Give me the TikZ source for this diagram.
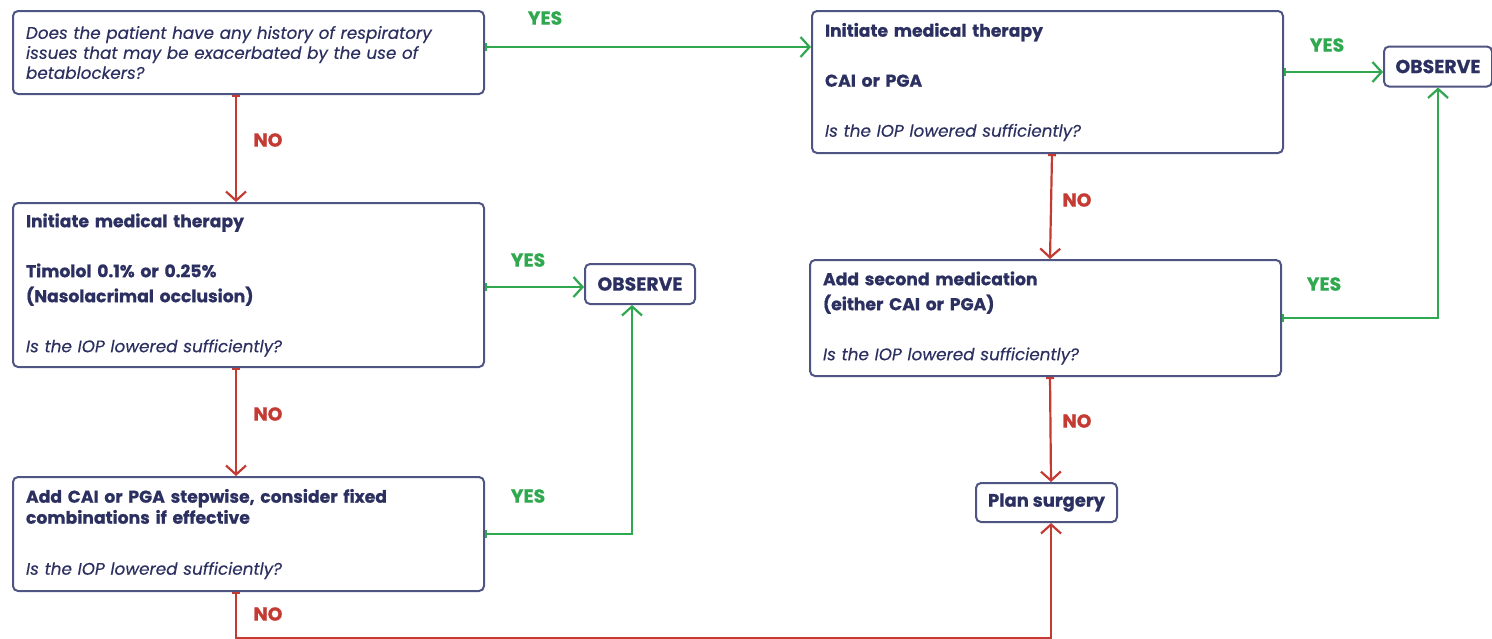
\documentclass[tikz,border=0pt]{standalone}
\usepackage{fontspec}
\setmainfont{Poppins}[BoldFeatures={FakeBold=0.7}, ItalicFeatures={FakeBold=0.3}]
\usetikzlibrary{arrows.meta}

\definecolor{boxline}{HTML}{4E5582}
\definecolor{ink}{HTML}{2B3060}
\definecolor{yescol}{HTML}{2FA84F}
\definecolor{nocol}{HTML}{C43B33}

\tikzset{
  flowbox/.style={draw=boxline, line width=1pt, rounded corners=2.5pt, text=ink,
    align=left, anchor=north west, text width=222.5pt, inner xsep=6.5pt, inner ysep=2pt,
    font=\fontsize{8.6pt}{12.5pt}\selectfont},
  endbox/.style={draw=boxline, line width=1pt, rounded corners=2.5pt, text=ink,
    inner sep=0pt, minimum height=20pt, font=\fontsize{9.4pt}{10pt}\selectfont\bfseries},
  yesarrow/.style={draw=yescol, line width=1.1pt,
    arrows={Bar[width=4pt]-Straight Barb[length=4.5pt,width=10pt]}},
  noarrow/.style={draw=nocol, line width=1.1pt,
    arrows={Bar[width=4pt]-Straight Barb[length=4.5pt,width=10pt]}},
  yeslbl/.style={text=yescol, font=\fontsize{9.4pt}{10pt}\selectfont\bfseries},
  nolbl/.style={text=nocol, font=\fontsize{9.4pt}{10pt}\selectfont\bfseries}
}

\begin{document}
\begin{tikzpicture}[x=0.5pt, y=-0.5pt]

  \useasboundingbox (0,0) rectangle (1492,638);

  % Left column
  \node[flowbox, minimum height=41.5pt, font=\fontsize{8.4pt}{10pt}\selectfont\itshape]
    (question) at (12,10)
    {Does the patient have any history of respiratory\\
     issues that may be exacerbated by the use of\\
     betablockers?};

  \node[flowbox, minimum height=82pt] (timolol) at (12,202)
    {\textbf{Initiate medical therapy}\\[12.5pt]
     \textbf{Timolol 0.1\% or 0.25\%}\\
     \textbf{(Nasolacrimal occlusion)}\\[12.5pt]
     {\fontsize{8.4pt}{10pt}\selectfont\itshape Is the IOP lowered sufficiently?}};

  \node[flowbox, minimum height=57pt] (stepwise) at (12,476)
    {\textbf{Add CAI or PGA stepwise, consider fixed}\\[-2pt]
     \textbf{combinations if effective}\\[13pt]
     {\fontsize{8.4pt}{10pt}\selectfont\itshape Is the IOP lowered sufficiently?}};

  \node[endbox, minimum width=55pt] (observeL) at (640,284) {OBSERVE};

  % Right column
  \node[flowbox, minimum height=71pt] (caipga) at (811,10)
    {\textbf{Initiate medical therapy}\\[12.5pt]
     \textbf{CAI or PGA}\\[12.5pt]
     {\fontsize{8.4pt}{10pt}\selectfont\itshape Is the IOP lowered sufficiently?}};

  \node[flowbox, minimum height=58pt] (second) at (809,259)
    {\textbf{Add second medication}\\
     \textbf{(either CAI or PGA)}\\[12.5pt]
     {\fontsize{8.4pt}{10pt}\selectfont\itshape Is the IOP lowered sufficiently?}};

  \node[endbox, minimum width=54pt] (observeR) at (1438,66.5) {OBSERVE};
  \node[endbox, minimum width=70.5pt, minimum height=19.5pt,
    font=\fontsize{9pt}{10pt}\selectfont\bfseries] (surgery) at (1046.5,502.5) {Plan surgery};

  % Connectors
  \draw[yesarrow] ([yshift=2.75pt]question.east) coordinate (q1out) -- (q1out -| caipga.west);
  \draw[noarrow] ([xshift=-6.25pt]question.south) -- ([xshift=-6.25pt]timolol.north);
  \draw[yesarrow] ([yshift=-1pt]timolol.east) coordinate (t1out) -- (t1out -| observeL.west);
  \draw[noarrow] ([xshift=-6.25pt]timolol.south) -- ([xshift=-6.25pt]stepwise.north);
  \draw[yesarrow] (stepwise.east) -| ([xshift=-4pt]observeL.south);
  \draw[noarrow] ([xshift=-6.25pt]stepwise.south) -- ++(0,46) -| ([xshift=2.25pt]surgery.south);

  \draw[yesarrow] ([yshift=5pt]caipga.east) coordinate (c1out) -- (c1out -| observeR.west);
  \draw[noarrow] ([xshift=2.25pt]caipga.south) -- ([xshift=2.25pt]second.north);
  \draw[yesarrow] (second.east) -| (observeR.south);
  \draw[noarrow] ([xshift=2.25pt]second.south) -- ([xshift=2.25pt]surgery.north);

  % Labels
  \node[yeslbl] (yes1) at (545,18) {YES};
  \node[nolbl]  (no1)  at (268,140) {NO};
  \node[yeslbl] (yes2) at (528,260) {YES};
  \node[nolbl]  (no2)  at (268,414) {NO};
  \node[yeslbl] (yes3) at (528,496) {YES};
  \node[nolbl]  (no3)  at (268,614) {NO};
  \node[yeslbl] (yes4) at (1327,45) {YES};
  \node[nolbl]  (no4)  at (1077,200) {NO};
  \node[yeslbl] (yes5) at (1324,284) {YES};
  \node[nolbl]  (no5)  at (1077,421) {NO};

\end{tikzpicture}
\end{document}
